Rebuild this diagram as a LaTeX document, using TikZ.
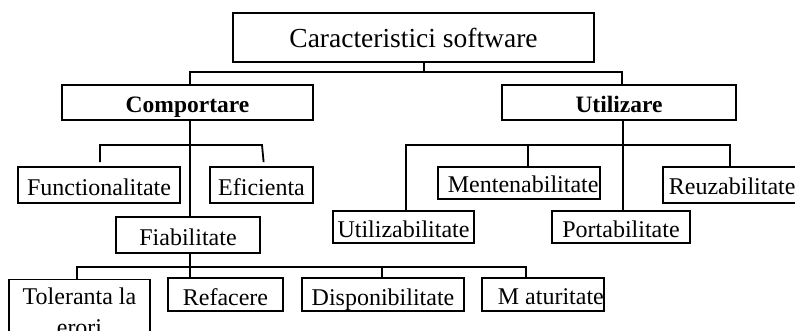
\documentclass[tikz,border=0pt]{standalone}
\usepackage{fontspec}
\setmainfont{Liberation Serif}
\newcommand\bodyfont{\fontsize{24}{31}\selectfont}
\newcommand\rootfont{\fontsize{27.5}{32}\selectfont}
\tikzset{
  box/.style={draw, line width=1.8pt, inner sep=2pt, font=\bodyfont,
              text height=21pt, text depth=0pt},
  cliptext/.style 2 args={path picture={\node[draw=none, anchor=base west, inner sep=0pt,
      minimum width=0pt, minimum height=0pt, font=\bodyfont]
      at ([xshift=#1, yshift=-10pt]path picture bounding box.west) {#2};}},
  conn/.style={line width=1.8pt},
  thinconn/.style={line width=1.2pt}
}
\begin{document}
\begin{tikzpicture}[x=1pt, y=-1pt]
\clip (0,0) rectangle (795,331);
% boxes
\node[draw, line width=1.8pt, minimum width=361pt, minimum height=49pt, font=\rootfont] (root) at (413.5,37.5) {Caracteristici software};
\node[box, minimum width=251pt, minimum height=35pt, font=\fontsize{23.5}{28}\selectfont\bfseries] (comp) at (187.5,102.5) {Comportare};
\node[box, minimum width=234pt, minimum height=35pt, font=\fontsize{23.5}{28}\selectfont\bfseries] (util) at (619,102.5) {Utilizare};
\node[box, minimum width=162pt, minimum height=36pt] (func) at (99,185) {Functionalitate};
\node[box, minimum width=103pt, minimum height=36pt] (efic) at (261.5,185) {Eficienta};
\node[box, minimum width=144pt, minimum height=36pt] (fiab) at (188,235) {Fiabilitate};
\node[draw, line width=1.8pt, inner sep=2pt, font=\bodyfont, align=center, minimum width=141pt, minimum height=65pt] (tol) at (79.5,312) {Toleranta la\\erori};
\node[box, minimum width=115pt, minimum height=33pt] (refa) at (225.5,294.5) {Refacere};
\node[box, minimum width=162pt, minimum height=33pt] (disp) at (383,294.5) {Disponibilitate};
\node[draw, line width=1.8pt, minimum width=122pt, minimum height=33pt, cliptext={15pt}{M aturitate}] (matu) at (543,294.5) {};
\node[draw, line width=1.8pt, minimum width=162pt, minimum height=32pt, cliptext={9pt}{Mentenabilitate}] (ment) at (519,183) {};
\node[draw, line width=1.8pt, minimum width=152pt, minimum height=36pt, cliptext={5pt}{Reuzabilitate}] (reuz) at (739,185) {};
\node[box, minimum width=141pt, minimum height=32pt] (utiz) at (403.5,227) {Utilizabilitate};
\node[box, minimum width=138pt, minimum height=32pt] (port) at (621,227) {Portabilitate};
% bus coordinates
\coordinate (r1) at (424,72);
\coordinate (bL) at (190,72);
\coordinate (bR) at (622,72);
\coordinate (cS) at (190,145);
\coordinate (cL) at (100,145);
\coordinate (cR) at (262,145);
\coordinate (fS) at (190,267);
\coordinate (fL) at (77,267);
\coordinate (fD) at (382,267);
\coordinate (fR) at (526,267);
\coordinate (uS) at (623,145);
\coordinate (uL) at (406,145);
\coordinate (uM) at (528,145);
\coordinate (uR) at (730,145);
% connectors
\draw[conn] (root.south -| r1) -- (r1);
\draw[conn] (comp.north -| bL) -- (bL) -- (bR) -- (util.north -| bR);
\draw[conn] (comp.south -| cS) -- (fiab.north -| cS);
\draw[conn, shorten <=4pt, shorten >=4pt] (func.north -| cL) -- (cL) -- (cR) -- ([xshift=2.5pt]efic.north);
\draw[conn] (fiab.south -| fS) -- (refa.north -| fS);
\draw[conn] (tol.north -| fL) -- (fL) -- (fR) -- (matu.north -| fR);
\draw[conn] (fD) -- (disp.north -| fD);
\draw[thinconn] (util.south -| uS) -- (port.north -| uS);
\draw[conn] (utiz.north -| uL) -- (uL) -- (uR) -- (reuz.north -| uR);
\draw[conn] (uM) -- (ment.north -| uM);
\end{tikzpicture}
\end{document}
